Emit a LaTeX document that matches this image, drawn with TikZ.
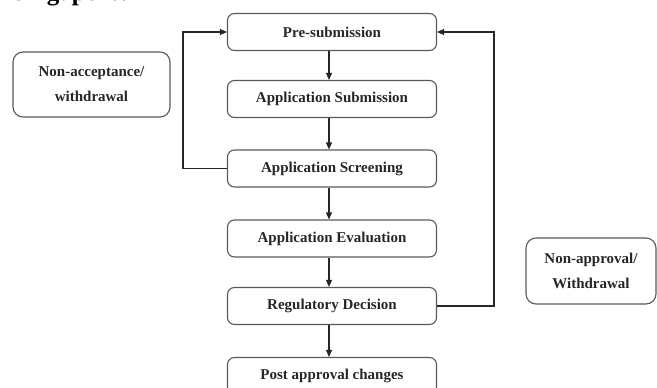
\documentclass[tikz,border=0pt]{standalone}
\usepackage{fontspec}
\setmainfont{Liberation Serif}
\usetikzlibrary{arrows.meta}
\begin{document}
\begin{tikzpicture}[x=1pt,y=-1pt,
  stagebox/.style={draw=black!65, line width=1.1pt, rounded corners=7pt,
    minimum width=209pt, minimum height=37pt, inner sep=0pt,
    font=\fontsize{15}{18}\selectfont\bfseries, text=black!85},
  sidebox/.style={draw=black!65, line width=1.1pt, rounded corners=10pt,
    inner sep=0pt, align=center,
    font=\fontsize{15}{25}\selectfont\bfseries, text=black!85},
  flow/.style={draw=black!85, line width=1.1pt, -{Triangle[length=7pt,width=6pt]}}]
\useasboundingbox (0,0) rectangle (657,388);
\clip (0,0) rectangle (657,388);
\node[anchor=base west, inner sep=0pt, font=\fontsize{25}{30}\selectfont\bfseries] (title) at (12,1) {Singapore:};
\node[stagebox] (pre)  at (332,32)    {Pre-submission};
\node[stagebox] (sub)  at (332,99)    {Application Submission};
\node[stagebox] (scr)  at (332,168.5) {Application Screening};
\node[stagebox] (eva)  at (332,238.5) {Application Evaluation};
\node[stagebox] (reg)  at (332,306)   {Regulatory Decision};
\node[stagebox] (post) at (332,376)   {Post approval changes};
\node[sidebox, minimum width=157pt, minimum height=65pt] (nacc) at (91.5,84.5) {Non-acceptance/\\withdrawal};
\node[sidebox, minimum width=130pt, minimum height=66pt] (nappr) at (591,271) {Non-approval/\\Withdrawal};
\coordinate (lx) at (183,0);
\coordinate (rx) at (494,0);
\draw[flow] ([xshift=-3pt]pre.south) -- ([xshift=-3pt]sub.north);
\draw[flow] ([xshift=-3pt]sub.south) -- ([xshift=-3pt]scr.north);
\draw[flow] ([xshift=-3pt]scr.south) -- ([xshift=-3pt]eva.north);
\draw[flow] ([xshift=-3pt]eva.south) -- ([xshift=-3pt]reg.north);
\draw[flow] ([xshift=-3pt]reg.south) -- ([xshift=-3pt]post.north);
\draw[flow] (scr.west) -- (scr.west -| lx) -- (pre.west -| lx) -- (pre.west);
\draw[flow] (reg.east) -- (reg.east -| rx) -- (pre.east -| rx) -- (pre.east);
\end{tikzpicture}
\end{document}
